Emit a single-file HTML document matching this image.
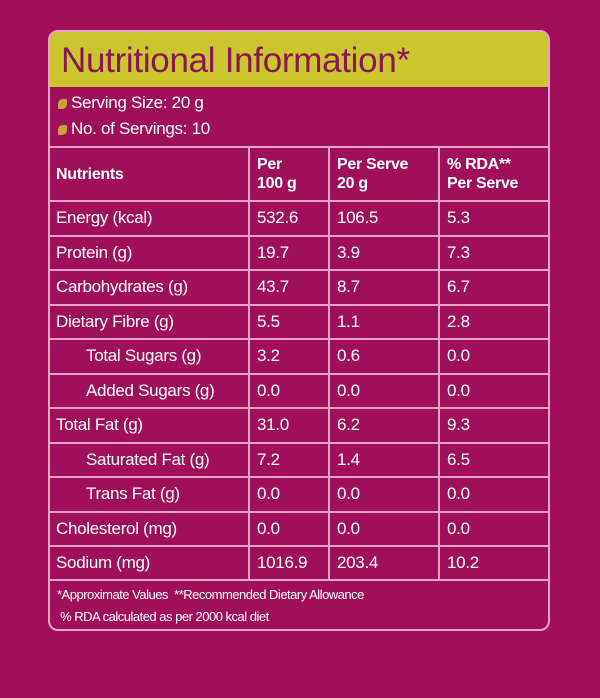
<!DOCTYPE html><html><head><style>
body{margin:0;width:600px;height:698px;background:#a0105a;font-family:"Liberation Sans",sans-serif;color:#fff;overflow:hidden}
.box{position:absolute;left:48px;top:30px;width:502px;height:601px;border:2px solid #e7a6c6;border-radius:10px;overflow:hidden;box-sizing:border-box}
.hd{position:absolute;left:0;top:0;width:100%;height:55px;background:#cbc62e;color:#8a1656;font-size:35px;line-height:57px;padding-left:11px;box-sizing:border-box;letter-spacing:-0.3px}
.s{position:absolute;left:8px;font-size:17px;letter-spacing:-0.3px}
.s i{display:inline-block;width:9px;height:10px;background:#c9a43a;border-radius:50% 10% 50% 10%;margin-right:4px;vertical-align:-1px}
.h{position:absolute;left:0;height:2px;width:100%;background:#e7a6c6}
.v{position:absolute;width:2px;background:#e7a6c6;top:115px;height:433px}
.t{position:absolute;font-size:17px;letter-spacing:-0.3px;white-space:nowrap}
.b{font-weight:bold;font-size:16px;line-height:19px}
.f{position:absolute;left:7px;font-size:13px;letter-spacing:-0.5px}
</style></head><body><div class="box">
<div class="hd">Nutritional Information*</div>
<div class="s" style="top:61px"><i></i>Serving Size: 20 g</div>
<div class="s" style="top:87px"><i></i>No. of Servings: 10</div>
<div class="h" style="top:114px"></div>
<div class="v" style="left:198px"></div><div class="v" style="left:278px"></div><div class="v" style="left:388px"></div>
<div class="t b" style="left:6px;top:133px">Nutrients</div>
<div class="t b" style="left:207px;top:123px">Per<br>100 g</div>
<div class="t b" style="left:287px;top:123px">Per Serve<br>20 g</div>
<div class="t b" style="left:397px;top:123px">% RDA**<br>Per Serve</div>
<div id="rows"></div>
<div class="f" style="top:555px">*Approximate Values &nbsp;**Recommended Dietary Allowance</div>
<div class="f" style="top:577px">&nbsp;% RDA calculated as per 2000 kcal diet</div>
</div>
<script>
var d=[["Energy (kcal)","532.6","106.5","5.3",0],["Protein (g)","19.7","3.9","7.3",0],["Carbohydrates (g)","43.7","8.7","6.7",0],["Dietary Fibre (g)","5.5","1.1","2.8",0],["Total Sugars (g)","3.2","0.6","0.0",1],["Added Sugars (g)","0.0","0.0","0.0",1],["Total Fat (g)","31.0","6.2","9.3",0],["Saturated Fat (g)","7.2","1.4","6.5",1],["Trans Fat (g)","0.0","0.0","0.0",1],["Cholesterol (mg)","0.0","0.0","0.0",0],["Sodium (mg)","1016.9","203.4","10.2",0]];
var h="";for(var i=0;i<d.length;i++){var y=168+i*34.5;h+='<div class="h" style="top:'+y+'px"></div>';var ty=y+8;
h+='<div class="t" style="left:'+(d[i][4]?36:6)+'px;top:'+ty+'px">'+d[i][0]+'</div><div class="t" style="left:207px;top:'+ty+'px">'+d[i][1]+'</div><div class="t" style="left:287px;top:'+ty+'px">'+d[i][2]+'</div><div class="t" style="left:397px;top:'+ty+'px">'+d[i][3]+'</div>';}
h+='<div class="h" style="top:547px"></div>';document.getElementById("rows").innerHTML=h;
</script></body></html>
